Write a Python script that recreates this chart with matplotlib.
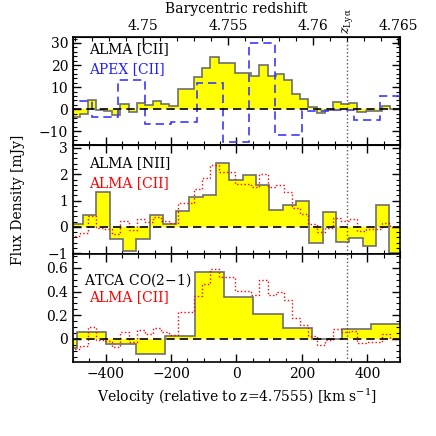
import numpy as np
import matplotlib
matplotlib.use('Agg')
import matplotlib.pyplot as plt
from matplotlib.ticker import MultipleLocator, FixedLocator, FuncFormatter

plt.rcParams['font.family'] = ['DejaVu Serif']
plt.rcParams['mathtext.fontset'] = 'dejavuserif'
plt.rcParams['font.size'] = 10

# ---- data ----
z_ref = 4.7555
z_lya = 4.762
c_kms = 299792.458

# ALMA [CII], 25 km/s channels (mJy)
cii_edges = np.arange(-505, 521, 25)
cii_flux = [-3.5, -2.3, 4.0, -0.5, -0.8, -2.7, 2.2, -1.2, 3.0, 1.8, 3.6, 2.2, 1.3,
            9.0, 9.0, 14.5, 18.7, 23.5, 20.8, 20.8, 16.3, 16.3, 15.0, 20.0, 15.0,
            16.0, 13.3, 7.0, 4.8, 1.0, -1.9, -0.5, 3.3, 2.3, 2.8, -1.5, -0.9,
            -0.9, 1.5, 0.0, 0.0]

# APEX [CII], ~80 km/s channels (mJy)
apex_edges = np.arange(-521, 520, 80)
apex_flux = [3.6, -3.4, 13.3, -6.9, -5.7, 11.9, -14.9, 29.9, -11.9, -0.8, -0.3,
             -4.9, 5.8]

# ALMA [NII] (mJy)
nii_edges = -510 + 40.7 * np.arange(26)
nii_flux = [0.09, 0.47, 1.32, -0.48, -0.92, -0.48, 0.44, 0.09, 0.62, 1.14, 1.2,
            2.43, 1.77, 1.99, 1.6, 0.66, 0.82, 1.0, -0.63, 0.57, -0.58, -0.44,
            -0.73, 0.85, -0.99]

# ATCA CO(2-1) (mJy)
co_edges = np.arange(-578, 503, 90)
co_flux = [-0.08, 0.056, -0.044, -0.13, 0.025, 0.567, 0.35, 0.21, 0.094, -0.003,
           0.083, 0.125]

# scaling of the [CII] overlay in the lower panels
cii_scale_nii = 0.1
cii_scale_co = 0.025


def z2v(z):
    return c_kms * (np.asarray(z) - z_ref) / (1 + z_ref)


def fmt(x, pos):
    s = '%g' % round(x, 6)
    return s.replace('-', '\u2212')


v_lya = z2v(z_lya)

fig = plt.figure(figsize=(4.36, 4.36), dpi=100)
gs = fig.add_gridspec(3, 1, left=0.1674, right=0.9174, top=0.9151, bottom=0.1697,
                      hspace=0)
axs = [fig.add_subplot(gs[i]) for i in range(3)]

fill_col = '#ffff00'
edge_col = '#6e6e6e'
lab_fs = 10


def spectrum(ax, vals, edges):
    ax.stairs(vals, edges, baseline=0, fill=True, color=fill_col, zorder=1)
    ax.stairs(vals, edges, baseline=0, color=edge_col, lw=1.2, zorder=2)


# top panel
ax = axs[0]
spectrum(ax, cii_flux, cii_edges)
ax.stairs(apex_flux, apex_edges, baseline=None, color='#3a3aff', lw=1.2,
          ls=(0, (5, 3)), zorder=3)
ax.set_ylim(-16.4, 32.7)
ax.yaxis.set_major_locator(MultipleLocator(10))
ax.yaxis.set_minor_locator(MultipleLocator(2))
ax.text(0.05, 0.89, 'ALMA [CII]', transform=ax.transAxes, va='center', fontsize=lab_fs)
ax.text(0.05, 0.70, 'APEX [CII]', transform=ax.transAxes, va='center', fontsize=lab_fs,
        color='#2020ff')

# middle panel
ax = axs[1]
spectrum(ax, nii_flux, nii_edges)
ax.stairs(np.array(cii_flux) * cii_scale_nii, cii_edges, baseline=None, color='red',
          lw=1.0, ls=':', zorder=3)
ax.set_ylim(-1.02, 3.1)
ax.yaxis.set_major_locator(MultipleLocator(1))
ax.yaxis.set_minor_locator(MultipleLocator(0.2))
ax.text(0.05, 0.835, 'ALMA [NII]', transform=ax.transAxes, va='center', fontsize=lab_fs)
ax.text(0.05, 0.65, 'ALMA [CII]', transform=ax.transAxes, va='center', fontsize=lab_fs,
        color='red')

# bottom panel
ax = axs[2]
spectrum(ax, co_flux, co_edges)
ax.stairs(np.array(cii_flux) * cii_scale_co, cii_edges, baseline=None, color='red',
          lw=1.0, ls=':', zorder=3)
ax.set_ylim(-0.195, 0.72)
ax.yaxis.set_major_locator(MultipleLocator(0.2))
ax.yaxis.set_minor_locator(MultipleLocator(0.05))
ax.text(0.035, 0.76, 'ATCA CO(2$-$1)', transform=ax.transAxes, va='center', fontsize=lab_fs)
ax.text(0.05, 0.595, 'ALMA [CII]', transform=ax.transAxes, va='center', fontsize=lab_fs,
        color='red')
ax.set_xlabel('Velocity (relative to z=4.7555) [km s$^{-1}$]', labelpad=4)

for i, ax in enumerate(axs):
    ax.axhline(0, color='k', ls=(0, (5, 3)), lw=1.2, zorder=4)
    ax.axvline(v_lya, color='#555555', ls=':', lw=1.0, zorder=4)
    ax.set_xlim(-500, 500)
    ax.xaxis.set_major_locator(MultipleLocator(200))
    ax.xaxis.set_minor_locator(MultipleLocator(50))
    ax.xaxis.set_major_formatter(FuncFormatter(fmt))
    ax.yaxis.set_major_formatter(FuncFormatter(fmt))
    ax.tick_params(which='both', direction='in', right=True, top=(i > 0))
    ax.tick_params(which='major', length=6, width=1)
    ax.tick_params(which='minor', length=3, width=0.8)
    for s in ax.spines.values():
        s.set_linewidth(1.2)
    if i < 2:
        ax.tick_params(labelbottom=False)

# redshift axis on top
top = axs[0].twiny()
top.set_xlim(-500, 500)
zmaj = [4.75, 4.755, 4.76, 4.765]
top.xaxis.set_major_locator(FixedLocator(z2v(zmaj)))
top.set_xticklabels(['4.75', '4.755', '4.76', '4.765'])
top.xaxis.set_minor_locator(FixedLocator(z2v(np.arange(4.746, 4.7655, 0.001))))
top.tick_params(which='both', direction='in')
top.tick_params(which='major', length=6, width=1, pad=3)
top.tick_params(which='minor', length=3, width=0.8)
top.set_xlabel('Barycentric redshift', labelpad=4)
top.text(v_lya, 1.025, r'$z_{\rm Ly\,\alpha}$', transform=top.get_xaxis_transform(),
         rotation=90, ha='center', va='bottom', fontsize=9)

fig.text(0.042, 0.5424, 'Flux Density [mJy]', rotation=90, ha='center', va='center')

fig.savefig('out.png', dpi=100)
